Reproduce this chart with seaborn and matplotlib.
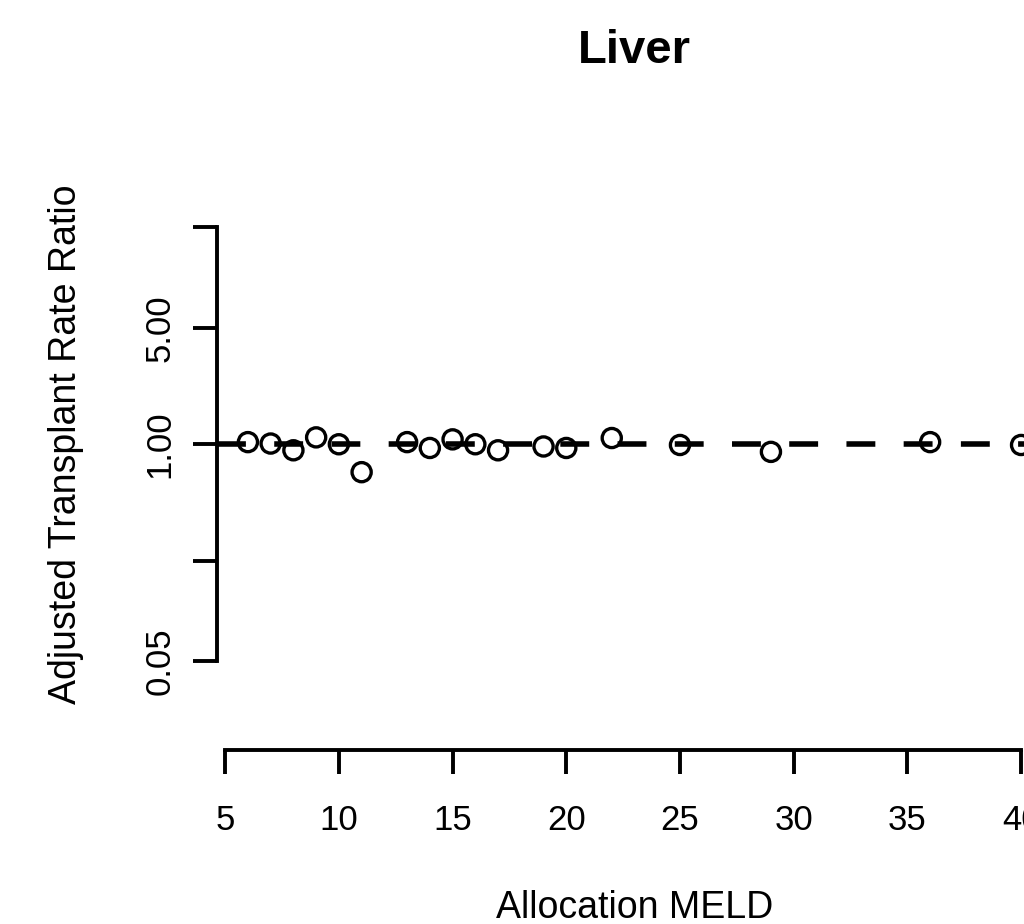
import numpy as np
import pandas as pd
import matplotlib
matplotlib.use('Agg')
import matplotlib.pyplot as plt
import seaborn as sns

# Values
meld = [6, 7, 8, 9, 10, 11, 13, 14, 15, 16, 17, 19, 20, 22, 25, 29, 36, 40]
rate_ratio = [1.03, 1.01, 0.92, 1.10, 1.00, 0.68, 1.03, 0.95, 1.07, 1.00,
              0.92, 0.97, 0.95, 1.09, 0.99, 0.90, 1.03, 0.99]
y_ticks = [0.05, 0.2, 1, 5, 20]
y_tick_labels = ['0.05', '', '1.00', '5.00', '']
x_ticks = [5, 10, 15, 20, 25, 30, 35, 40]

df = pd.DataFrame({'meld': meld, 'ratio': rate_ratio})

sns.set_style('white')
plt.rcParams['font.family'] = ['Liberation Sans', 'DejaVu Sans']
plt.rcParams['text.color'] = 'black'
plt.rcParams['axes.labelcolor'] = 'black'
plt.rcParams['xtick.color'] = 'black'
plt.rcParams['ytick.color'] = 'black'

fig = plt.figure(figsize=(10.24, 9.24), dpi=100)
# plot region runs past the right edge, as in the reference
ax = fig.add_axes([217 / 1024, 0.1883, 835 / 1024, 0.6618])

sns.scatterplot(data=df, x='meld', y='ratio', ax=ax, marker='o', s=190,
                facecolors='none', edgecolors='black', linewidths=2.4,
                zorder=2, legend=False)
ax.axhline(1, color='black', lw=4.0, linestyle=(0, (5.2, 5.1)), zorder=3)

ax.set_yscale('log')
ax.set_xlim(4.64, 41.36)
ax.set_ylim(10 ** -1.835, 10 ** 1.835)

ax.set_yticks(y_ticks)
ax.set_yticklabels(y_tick_labels, rotation=90, va='center')
ax.yaxis.set_minor_locator(matplotlib.ticker.NullLocator())
ax.set_xticks(x_ticks)
ax.set_xticklabels([str(t) for t in x_ticks])

for side in ['top', 'right']:
    ax.spines[side].set_visible(False)
ax.spines['left'].set_bounds(0.05, 20)
ax.spines['bottom'].set_bounds(5, 40)
for side in ['left', 'bottom']:
    ax.spines[side].set_linewidth(2.8)
    ax.spines[side].set_color('black')
    ax.spines[side].set_capstyle('projecting')

ax.tick_params(axis='both', which='major', length=17, width=2.8, color='black',
               labelsize=25, labelcolor='black', direction='out', left=True, bottom=True)
ax.tick_params(axis='y', pad=12)
ax.tick_params(axis='x', pad=22)

ax.set_xlabel('Allocation MELD', fontsize=27)
ax.set_ylabel('Adjusted Transplant Rate Ratio', fontsize=27)
ax.xaxis.set_label_coords(0.5, -0.258)
ax.xaxis.label.set_va('center')
ax.yaxis.set_label_coords(-0.181, 0.5)
ax.yaxis.label.set_va('center')

ax.set_title('Liver', fontsize=34, fontweight='bold', y=1.13, va='center')

fig.savefig('out.png', dpi=100)
